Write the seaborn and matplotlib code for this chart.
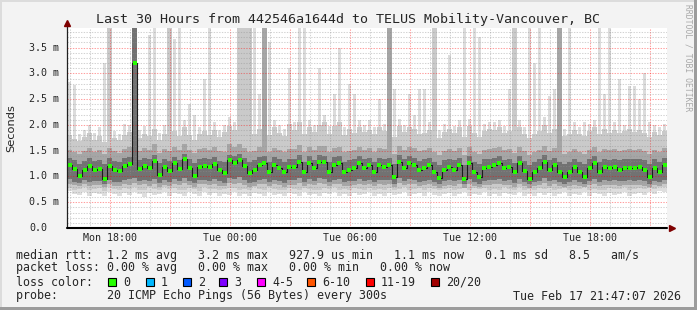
import numpy as np
import pandas as pd
import matplotlib
matplotlib.use("Agg")
import matplotlib.pyplot as plt
import seaborn as sns
from matplotlib.patches import Rectangle
from matplotlib import transforms

# ---------------- data (ms), one value per 15-minute bin ----------------
T0 = 15.83          # hours since Monday 00:00 at the left edge
STEP = 0.25         # 15 minutes per bin

median_rtt = [
    1.22, 1.15, 1.00, 1.12, 1.20, 1.12, 1.14, 0.95, 1.20, 1.12, 1.10, 1.20, 1.25, 3.20, 1.15, 1.20, 1.16, 1.30, 1.02, 1.18,
    1.10, 1.26, 1.14, 1.33, 1.16, 1.00, 1.18, 1.20, 1.18, 1.24, 1.13, 1.06, 1.32, 1.26, 1.32, 1.20, 1.06, 1.12, 1.22, 1.26,
    1.09, 1.22, 1.16, 1.09, 1.19, 1.19, 1.29, 1.09, 1.26, 1.16, 1.29, 1.28, 1.09, 1.22, 1.26, 1.09, 1.13, 1.16, 1.26, 1.16,
    1.22, 1.09, 1.22, 1.19, 1.22, 0.99, 1.29, 1.17, 1.26, 1.22, 1.13, 1.16, 1.22, 1.09, 0.97, 1.13, 1.18, 1.13, 1.22, 0.95,
    1.26, 1.09, 0.99, 1.16, 1.19, 1.22, 1.26, 1.16, 1.19, 1.08, 1.26, 1.10, 0.95, 1.09, 1.16, 1.28, 1.12, 1.22, 1.09, 0.99,
    1.09, 1.19, 1.09, 0.99, 1.16, 1.26, 1.09, 1.19, 1.16, 1.19, 1.13, 1.16, 1.17, 1.16, 1.19, 1.13, 0.99, 1.16, 1.09, 1.22]

ping_min = [
    0.72, 0.66, 0.64, 0.70, 0.62, 0.68, 0.66, 0.63, 0.70, 0.65, 0.62, 0.67, 0.64, 0.70, 0.66, 0.61, 0.68, 0.64, 0.66, 0.70,
    0.63, 0.68, 0.66, 0.62, 0.69, 0.65, 0.63, 0.70, 0.64, 0.67, 0.62, 0.66, 0.64, 0.69, 0.62, 0.66, 0.63, 0.68, 0.65, 0.62,
    0.70, 0.64, 0.66, 0.62, 0.68, 0.65, 0.63, 0.69, 0.64, 0.66, 0.62, 0.67, 0.65, 0.70, 0.63, 0.66, 0.62, 0.68, 0.64, 0.66,
    0.70, 0.63, 0.65, 0.62, 0.68, 0.64, 0.66, 0.70, 0.62, 0.65, 0.67, 0.63, 0.69, 0.64, 0.62, 0.66, 0.68, 0.63, 0.65, 0.70,
    0.62, 0.66, 0.64, 0.69, 0.63, 0.65, 0.62, 0.68, 0.66, 0.64, 0.70, 0.63, 0.66, 0.62, 0.68, 0.64, 0.67, 0.63, 0.65, 0.69,
    0.62, 0.66, 0.64, 0.70, 0.63, 0.67, 0.65, 0.62, 0.68, 0.64, 0.66, 0.70, 0.63, 0.65, 0.68, 0.64, 0.69, 0.66, 0.72, 0.70]

ping_lo2 = [
    0.78, 0.74, 0.75, 0.80, 0.73, 0.76, 0.77, 0.72, 0.79, 0.75, 0.73, 0.77, 0.76, 0.79, 0.74, 0.73, 0.79, 0.75, 0.74, 0.80,
    0.75, 0.77, 0.74, 0.73, 0.78, 0.76, 0.72, 0.79, 0.75, 0.76, 0.74, 0.75, 0.77, 0.78, 0.73, 0.75, 0.74, 0.79, 0.76, 0.73,
    0.79, 0.75, 0.74, 0.73, 0.77, 0.76, 0.74, 0.78, 0.75, 0.74, 0.73, 0.78, 0.76, 0.79, 0.74, 0.75, 0.73, 0.77, 0.75, 0.74,
    0.78, 0.74, 0.76, 0.73, 0.77, 0.73, 0.75, 0.79, 0.74, 0.76, 0.78, 0.74, 0.78, 0.75, 0.73, 0.75, 0.77, 0.74, 0.76, 0.78,
    0.73, 0.77, 0.75, 0.78, 0.74, 0.76, 0.73, 0.79, 0.75, 0.74, 0.79, 0.74, 0.75, 0.73, 0.77, 0.75, 0.78, 0.74, 0.76, 0.78,
    0.73, 0.75, 0.76, 0.79, 0.74, 0.76, 0.74, 0.73, 0.77, 0.75, 0.75, 0.79, 0.74, 0.76, 0.77, 0.75, 0.78, 0.75, 0.80, 0.79]

ping_lo1 = [
    0.86, 0.83, 0.81, 0.85, 0.82, 0.84, 0.83, 0.80, 0.86, 0.82, 0.81, 0.85, 0.84, 0.87, 0.83, 0.85, 0.82, 0.86, 0.80, 0.84,
    0.82, 0.86, 0.83, 0.87, 0.84, 0.80, 0.85, 0.85, 0.83, 0.86, 0.82, 0.81, 0.87, 0.85, 0.88, 0.84, 0.80, 0.82, 0.85, 0.86,
    0.81, 0.85, 0.84, 0.80, 0.84, 0.84, 0.87, 0.81, 0.86, 0.83, 0.87, 0.86, 0.81, 0.85, 0.86, 0.81, 0.82, 0.84, 0.86, 0.83,
    0.85, 0.81, 0.85, 0.84, 0.85, 0.79, 0.87, 0.83, 0.86, 0.85, 0.82, 0.83, 0.85, 0.81, 0.78, 0.82, 0.84, 0.82, 0.85, 0.78,
    0.86, 0.81, 0.79, 0.83, 0.84, 0.85, 0.86, 0.83, 0.84, 0.80, 0.86, 0.82, 0.78, 0.81, 0.83, 0.87, 0.82, 0.85, 0.81, 0.79,
    0.81, 0.84, 0.81, 0.79, 0.83, 0.86, 0.81, 0.84, 0.83, 0.84, 0.82, 0.83, 0.84, 0.83, 0.84, 0.82, 0.79, 0.83, 0.81, 0.85]

ping_dlo = [
    0.95, 0.90, 0.88, 0.93, 0.90, 0.92, 0.91, 0.86, 0.94, 0.90, 0.89, 0.93, 0.95, 0.97, 0.92, 0.94, 0.91, 0.96, 0.87, 0.93,
    0.90, 0.95, 0.91, 0.97, 0.92, 0.87, 0.93, 0.94, 0.92, 0.96, 0.91, 0.88, 0.97, 0.95, 0.98, 0.93, 0.88, 0.90, 0.94, 0.96,
    0.89, 0.94, 0.92, 0.88, 0.93, 0.93, 0.97, 0.89, 0.96, 0.92, 0.97, 0.96, 0.89, 0.94, 0.95, 0.89, 0.91, 0.92, 0.96, 0.92,
    0.94, 0.89, 0.94, 0.93, 0.94, 0.86, 0.97, 0.92, 0.96, 0.94, 0.90, 0.92, 0.94, 0.89, 0.85, 0.91, 0.93, 0.91, 0.94, 0.85,
    0.96, 0.89, 0.86, 0.92, 0.93, 0.94, 0.96, 0.92, 0.93, 0.88, 0.96, 0.90, 0.85, 0.89, 0.92, 0.97, 0.91, 0.94, 0.89, 0.86,
    0.89, 0.93, 0.89, 0.86, 0.92, 0.96, 0.89, 0.93, 0.92, 0.93, 0.91, 0.92, 0.93, 0.92, 0.93, 0.91, 0.86, 0.92, 0.89, 0.94]

ping_dhi = [
    1.36, 1.32, 1.25, 1.30, 1.35, 1.30, 1.31, 1.24, 1.36, 1.30, 1.28, 1.35, 1.38, 3.88, 1.32, 1.36, 1.33, 1.42, 1.26, 1.34,
    1.30, 1.38, 1.31, 1.44, 1.33, 1.26, 1.34, 1.35, 1.33, 1.38, 1.30, 1.28, 1.42, 1.39, 1.43, 1.35, 1.28, 1.31, 1.37, 1.40,
    1.29, 1.37, 1.33, 1.28, 1.34, 1.34, 1.41, 1.29, 1.39, 1.32, 1.41, 1.40, 1.29, 1.37, 1.39, 1.28, 1.31, 1.33, 1.39, 1.33,
    1.36, 1.29, 1.36, 1.34, 1.36, 1.24, 1.41, 1.33, 1.39, 1.36, 1.30, 1.33, 1.36, 1.29, 1.23, 1.31, 1.34, 1.31, 1.36, 1.22,
    1.39, 1.29, 1.24, 1.33, 1.34, 1.36, 1.39, 1.32, 1.34, 1.27, 1.39, 1.30, 1.23, 1.29, 1.33, 1.41, 1.31, 1.36, 1.29, 1.24,
    1.29, 1.34, 1.29, 1.24, 1.33, 1.39, 1.29, 1.34, 1.32, 1.34, 1.31, 1.33, 1.34, 1.33, 1.34, 1.31, 1.24, 1.33, 1.29, 1.36]

ping_hi1 = [
    1.52, 1.48, 1.44, 1.50, 1.55, 1.47, 1.52, 1.43, 1.56, 1.49, 1.46, 1.53, 1.58, 3.88, 1.50, 1.55, 1.52, 1.62, 1.45, 1.54,
    1.50, 1.58, 1.51, 1.63, 1.52, 1.45, 1.53, 1.56, 1.52, 1.58, 1.49, 1.47, 1.62, 1.58, 1.63, 1.55, 1.47, 1.50, 1.57, 3.88,
    1.48, 1.56, 1.52, 1.47, 1.54, 1.53, 1.61, 1.48, 1.58, 1.52, 1.60, 1.59, 1.48, 1.56, 1.58, 1.47, 1.50, 1.52, 1.58, 1.52,
    1.55, 1.48, 1.56, 1.53, 3.88, 1.43, 1.60, 1.52, 1.58, 1.55, 1.50, 1.52, 1.55, 1.48, 1.42, 1.50, 1.54, 1.50, 1.55, 1.42,
    1.58, 1.48, 1.43, 1.52, 1.54, 1.55, 1.58, 1.51, 1.53, 1.46, 1.58, 1.49, 1.42, 1.48, 1.52, 1.60, 1.50, 1.55, 3.88, 1.43,
    1.48, 1.53, 1.48, 1.43, 1.52, 1.58, 1.48, 1.54, 1.51, 1.53, 1.50, 1.52, 1.54, 1.52, 1.53, 1.50, 1.43, 1.52, 1.48, 1.55]

ping_hi2 = [
    1.80, 1.72, 1.68, 1.76, 1.85, 1.70, 1.78, 1.66, 3.88, 1.74, 1.70, 1.80, 1.86, 3.88, 1.75, 1.82, 1.78, 1.92, 1.70, 1.82,
    3.88, 1.88, 1.78, 1.95, 1.80, 1.70, 1.82, 1.88, 1.80, 1.90, 1.76, 1.86, 1.98, 1.90, 3.88, 3.88, 3.88, 1.82, 1.92, 3.88,
    1.80, 1.95, 1.85, 1.78, 2.02, 1.90, 2.05, 1.82, 1.95, 1.86, 2.00, 2.05, 1.82, 1.98, 2.06, 1.80, 1.92, 1.85, 1.95, 1.86,
    1.90, 1.82, 1.95, 1.88, 3.88, 1.76, 1.98, 1.86, 1.95, 1.92, 1.82, 1.85, 1.90, 3.88, 1.74, 1.86, 1.92, 1.84, 1.95, 1.76,
    1.98, 1.84, 1.76, 1.88, 1.92, 1.90, 1.95, 1.84, 1.88, 3.88, 1.95, 1.82, 1.74, 1.82, 1.88, 2.00, 1.84, 1.92, 3.88, 1.78,
    1.82, 1.90, 1.82, 1.78, 1.88, 1.95, 1.82, 1.92, 1.85, 1.90, 1.84, 1.88, 1.92, 1.86, 1.90, 1.84, 1.76, 1.86, 1.80, 1.88]

ping_max = [
    2.83, 2.78, 1.82, 1.90, 2.00, 1.84, 1.95, 3.20, 3.88, 1.88, 1.82, 2.02, 2.00, 3.88, 1.90, 1.98, 3.75, 3.88, 1.85, 2.00,
    3.88, 3.67, 3.88, 2.10, 2.40, 2.20, 1.95, 2.90, 3.88, 2.05, 1.90, 2.00, 2.15, 2.05, 3.88, 3.88, 3.88, 3.88, 2.60, 3.88,
    3.60, 2.10, 2.00, 1.92, 3.10, 2.05, 3.88, 3.88, 2.10, 2.00, 3.10, 2.20, 1.98, 2.60, 3.50, 1.95, 2.80, 2.60, 2.10, 2.00,
    2.10, 1.95, 2.50, 2.02, 3.88, 2.70, 2.12, 2.00, 2.60, 2.20, 2.70, 2.70, 2.05, 3.88, 1.90, 2.02, 3.35, 1.98, 2.10, 3.88,
    2.12, 3.88, 3.70, 2.02, 2.05, 2.05, 2.10, 1.98, 2.70, 3.88, 2.10, 1.96, 3.88, 3.20, 3.88, 2.15, 2.56, 2.70, 3.88, 1.92,
    3.88, 2.05, 1.96, 2.05, 2.02, 2.10, 3.88, 2.60, 3.88, 2.05, 2.90, 2.00, 2.75, 2.75, 2.50, 3.00, 2.05, 2.00, 1.95, 2.02]

xtick_hours = [18, 24, 30, 36, 42]
xtick_labels = ["Mon 18:00", "Tue 00:00", "Tue 06:00", "Tue 12:00", "Tue 18:00"]
ytick_values = [0.0, 0.5, 1.0, 1.5, 2.0, 2.5, 3.0, 3.5]
ytick_labels = ["0.0", "0.5 m", "1.0 m", "1.5 m", "2.0 m", "2.5 m", "3.0 m", "3.5 m"]

title = "Last 30 Hours from 442546a1644d to TELUS Mobility-Vancouver, BC"
legend_lines = [
    "median rtt:  1.2 ms avg   3.2 ms max   927.9 us min   1.1 ms now   0.1 ms sd   8.5   am/s",
    "packet loss: 0.00 % avg   0.00 % max   0.00 % min   0.00 % now",
    "loss color:",
    "probe:       20 ICMP Echo Pings (56 Bytes) every 300s",
]
loss_labels = ["0", "1", "2", "3", "4-5", "6-10", "11-19", "20/20"]
loss_colors = ["#26ff00", "#00b8ff", "#0059ff", "#7e00ff", "#ff00ff", "#ff5500", "#ff0000", "#a10000"]
stamp = "Tue Feb 17 21:47:07 2026"

# ---------------- figure ----------------
W, H = 697, 310
sns.set_style("white")
plt.rcParams["font.family"] = ["DejaVu Sans Mono", "DejaVu Sans"]

fig = plt.figure(figsize=(W / 100, H / 100), dpi=100, facecolor="#f3f3f3")
fx = lambda x: x / W
fy = lambda y: 1 - y / H

ax = fig.add_axes([fx(67), fy(228), 600 / W, 200 / H])
ax.set_facecolor("white")
ax.set_xlim(T0, T0 + 30)
ax.set_ylim(0, 3.88)
for s in ax.spines.values():
    s.set_visible(False)

N = len(median_rtt)
edges = T0 + STEP * np.arange(N + 1)
centers = T0 + STEP * (np.arange(N) + 0.5)


def band(lo, hi, color):
    lo = np.asarray(lo, float)
    hi = np.asarray(hi, float)
    ax.fill_between(edges, np.append(lo, lo[-1]), np.append(hi, hi[-1]),
                    step="post", color=color, lw=0, zorder=1)


# single highest ping: thin light spikes above the smoke
hi2_arr = np.asarray(ping_hi2, float)
max_arr = np.asarray(ping_max, float)
ax.bar(centers, max_arr - hi2_arr, bottom=hi2_arr, width=0.15, color="#dcdcdc", lw=0, zorder=1)

band(ping_min, ping_hi2, "#dedede")
band(ping_lo2, ping_hi2, "#cacaca")
band(ping_lo1, ping_hi1, "#a6a6a6")
band(ping_dlo, ping_dhi, "#727272")

# grid (drawn over the smoke, like rrdtool)
for h in range(16, 46):
    major = h % 3 == 0
    ax.axvline(h, color="#ff0000" if major else "#909090", alpha=0.38 if major else 0.4,
               lw=0.75, dashes=(1.3, 1.3), zorder=2)
for k in range(1, 39):
    major = k % 5 == 0
    ax.axhline(k / 10, color="#ff0000" if major else "#909090", alpha=0.38 if major else 0.4,
               lw=0.75, dashes=(1.3, 1.3), zorder=2)

df = pd.DataFrame({"t": centers, "rtt": median_rtt})
sns.lineplot(data=df, x="t", y="rtt", ax=ax, color="#1c1c1c", lw=0.8,
             drawstyle="steps-mid", estimator=None, zorder=3)
sns.scatterplot(data=df, x="t", y="rtt", ax=ax, marker="s", s=5, color="#26ff00",
                linewidth=0, zorder=4)
ax.set_xlabel("")
ax.set_ylabel("")

# ticks
ax.set_xticks(np.arange(16, 46))
ax.tick_params(axis="x", direction="in", length=2, width=0.7, color="#333333", labelbottom=False)
ax.set_yticks(ytick_values)
ax.tick_params(axis="y", direction="out", length=3, width=0.7, color="#333333", labelleft=False)

# axis lines and arrows
ax.plot([0, 0], [0, 1.02], transform=ax.transAxes, clip_on=False, color="#202020", lw=0.9, zorder=5)
ax.plot([0, 1.0], [0, 0], transform=ax.transAxes, clip_on=False, color="#000000", lw=1.5, zorder=5)
ax.plot([0], [1.025], transform=ax.transAxes, clip_on=False, marker="^", ms=4.5, color="#7f0000", zorder=6)
ax.plot([1.0075], [0], transform=ax.transAxes, clip_on=False, marker=">", ms=4.5, color="#7f0000", zorder=6)

# tick labels
ty = transforms.blended_transform_factory(ax.transAxes, ax.transData)
for v, lab in zip(ytick_values, ytick_labels):
    ax.text((29 - 67) / 600, v, lab, transform=ty, ha="left", va="center", fontsize=7.2,
            family="DejaVu Sans Mono")
tx = transforms.blended_transform_factory(ax.transData, ax.transAxes)
for h, lab in zip(xtick_hours, xtick_labels):
    ax.text(h, -10 / 200, lab, transform=tx, ha="center", va="center", fontsize=7.2,
            family="DejaVu Sans Mono")

fig.text(fx(11), fy(128), "Seconds", rotation=90, ha="center", va="center",
         fontsize=8.2, family="DejaVu Sans")
fig.text(fx(348), fy(19), title, ha="center", va="center", fontsize=9.6, family="DejaVu Sans Mono")
fig.text(fx(688), fy(58), "RRDTOOL / TOBI OETIKER", rotation=270, ha="center", va="center",
         fontsize=5.8, color="#a8a8a8", family="DejaVu Sans Mono")

# legend
for yy, line in zip([255, 268, 282, 296], legend_lines):
    fig.text(fx(16), fy(yy), line, ha="left", va="center", fontsize=8.4, family="DejaVu Sans Mono")
box_x = [108, 146, 183, 219, 257, 307, 366, 431]
for bx, lab, c in zip(box_x, loss_labels, loss_colors):
    fig.add_artist(Rectangle((fx(bx), fy(286)), 8 / W, 8 / H, transform=fig.transFigure,
                             facecolor=c, edgecolor="black", lw=0.8))
    fig.text(fx(bx + 15), fy(282), lab, ha="left", va="center", fontsize=8.4, family="DejaVu Sans Mono")
fig.text(fx(681), fy(296), stamp, ha="right", va="center", fontsize=8.4, family="DejaVu Sans Mono")

# 3D frame
fig.add_artist(Rectangle((0, fy(2)), 1, 2 / H, transform=fig.transFigure, facecolor="#dcdcdc", lw=0))
fig.add_artist(Rectangle((0, 0), 2 / W, 1, transform=fig.transFigure, facecolor="#dcdcdc", lw=0))
fig.add_artist(Rectangle((0, 0), 1, 3 / H, transform=fig.transFigure, facecolor="#9c9c9c", lw=0))
fig.add_artist(Rectangle((fx(694), 0), 3 / W, 1, transform=fig.transFigure, facecolor="#9c9c9c", lw=0))

fig.savefig("out.png", dpi=100, facecolor=fig.get_facecolor())
